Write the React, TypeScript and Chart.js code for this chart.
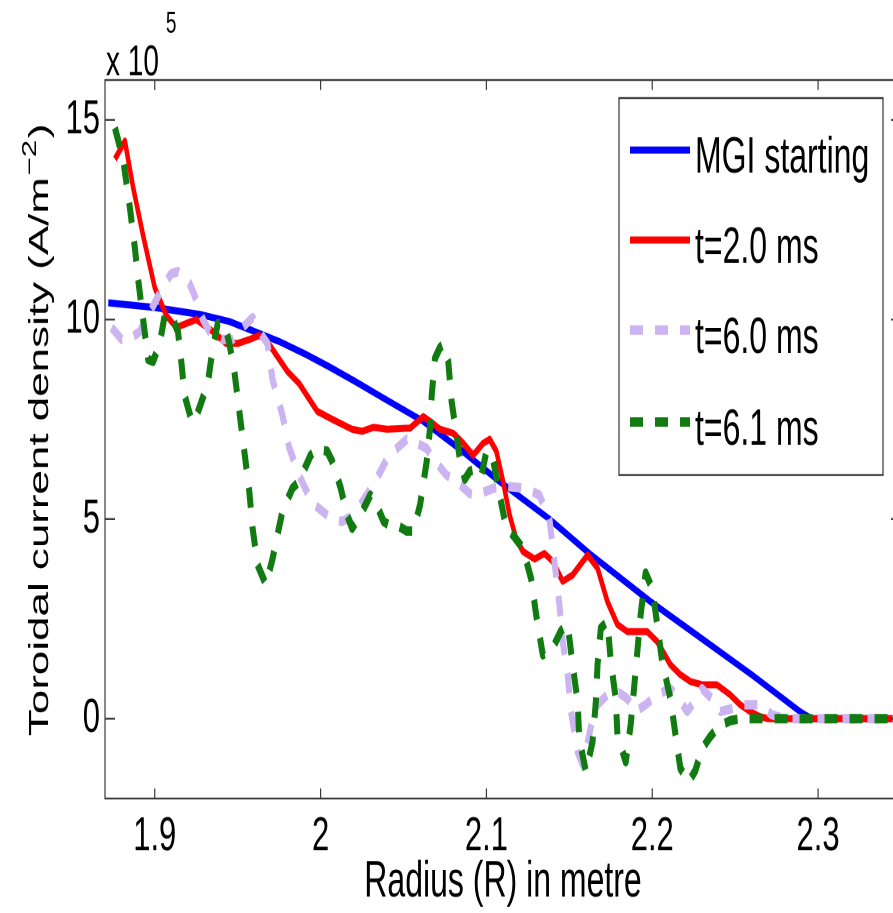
import React, { useEffect, useRef } from 'react';
import { Chart, registerables } from 'chart.js';

Chart.register(...registerables);

const FONT = "'Liberation Sans', Arial, Helvetica, sans-serif";
const CANVAS_W = 901;
const CANVAS_H = 582;
const STRETCH = 913 / CANVAS_H;

const xTickValues = [1.9, 2.0, 2.1, 2.2, 2.3];
const yTickValues = [0, 5, 10, 15];
const xTitle = 'Radius (R) in metre';
const yTitleMain = 'Toroidal current density (A/m';
const yTitleSup = '\u22122';
const yTitleEnd = ')';
const exponentBase = 'x 10';
const exponentPow = '5';

const seriesLabels = ['MGI starting', 't=2.0 ms', 't=6.0 ms', 't=6.1 ms'];
const seriesColors = ['#0000ff', '#ff0000', '#cbb4f0', '#117a11'];

// MGI starting
const mgiR = [1.872, 1.9, 1.927, 1.945, 1.959, 1.975, 1.99, 2.005, 2.02, 2.04, 2.062, 2.085, 2.108, 2.138, 2.162, 2.199, 2.23, 2.26, 2.289, 2.296, 2.35];
const mgiJ = [10.42, 10.3, 10.13, 9.95, 9.72, 9.45, 9.15, 8.82, 8.47, 7.98, 7.45, 6.72, 5.94, 5.0, 4.14, 2.93, 2.0, 1.1, 0.18, 0, 0];

// t = 2.0 ms
const t20R = [1.876, 1.882, 1.887, 1.893, 1.9, 1.907, 1.913, 1.919, 1.925, 1.935, 1.943, 1.95, 1.957, 1.963, 1.967, 1.98, 1.987, 1.998, 2.007, 2.019, 2.025, 2.032, 2.04, 2.054, 2.062, 2.066, 2.072, 2.08, 2.086, 2.092, 2.098, 2.102, 2.106, 2.11, 2.114, 2.118, 2.122, 2.129, 2.135, 2.14, 2.146, 2.152, 2.161, 2.167, 2.173, 2.179, 2.185, 2.197, 2.203, 2.211, 2.217, 2.223, 2.23, 2.239, 2.247, 2.253, 2.259, 2.265, 2.27, 2.35];
const t20J = [14.02, 14.47, 13.3, 12.1, 10.8, 10.1, 9.8, 9.9, 10.0, 9.7, 9.4, 9.4, 9.5, 9.6, 9.5, 8.7, 8.4, 7.7, 7.5, 7.25, 7.2, 7.3, 7.25, 7.28, 7.57, 7.45, 7.25, 7.15, 6.9, 6.6, 6.9, 7.0, 6.7, 5.95, 5.1, 4.5, 4.19, 4.0, 4.14, 3.94, 3.44, 3.6, 4.1, 3.77, 2.93, 2.36, 2.18, 2.18, 1.93, 1.35, 1.1, 0.93, 0.85, 0.85, 0.6, 0.35, 0.18, 0.05, 0, 0];

// t = 6.0 ms
const t60R = [1.874, 1.88, 1.886, 1.891, 1.896, 1.901, 1.906, 1.91, 1.914, 1.918, 1.921, 1.925, 1.929, 1.933, 1.941, 1.947, 1.953, 1.959, 1.963, 1.968, 1.971, 1.977, 1.981, 1.987, 1.995, 2.007, 2.013, 2.018, 2.024, 2.032, 2.04, 2.044, 2.052, 2.056, 2.064, 2.068, 2.076, 2.082, 2.09, 2.094, 2.104, 2.112, 2.124, 2.132, 2.138, 2.141, 2.144, 2.146, 2.149, 2.151, 2.155, 2.158, 2.161, 2.164, 2.167, 2.173, 2.18, 2.185, 2.19, 2.196, 2.203, 2.211, 2.216, 2.221, 2.226, 2.23, 2.236, 2.241, 2.248, 2.255, 2.265, 2.272, 2.28, 2.35];
const t60J = [9.8, 9.5, 9.55, 9.7, 10.1, 10.5, 10.9, 11.15, 11.2, 11.05, 10.9, 10.5, 10.0, 9.7, 9.5, 9.5, 9.8, 10.05, 9.7, 9.4, 8.5, 7.6, 6.8, 6.1, 5.4, 5.0, 4.94, 5.05, 5.36, 5.87, 6.5, 6.7, 7.0, 6.95, 6.77, 6.5, 6.1, 5.94, 5.64, 5.6, 5.77, 5.82, 5.77, 5.6, 5.0, 3.94, 2.86, 1.93, 1.1, 0.18, -0.83, -1.15, -0.6, 0.0, 0.35, 0.6, 0.65, 0.5, 0.18, 0.35, 0.6, 0.75, 0.5, 0.18, 0.45, 0.75, 0.5, 0.18, 0.25, 0.35, 0.35, 0.1, 0, 0];

// t = 6.1 ms
const t61R = [1.876, 1.881, 1.885, 1.888, 1.89, 1.893, 1.896, 1.899, 1.903, 1.906, 1.91, 1.914, 1.916, 1.918, 1.922, 1.924, 1.927, 1.932, 1.935, 1.938, 1.942, 1.945, 1.948, 1.951, 1.954, 1.957, 1.959, 1.962, 1.967, 1.971, 1.977, 1.983, 1.987, 1.994, 1.998, 2.004, 2.007, 2.012, 2.016, 2.019, 2.024, 2.03, 2.033, 2.038, 2.041, 2.046, 2.052, 2.056, 2.06, 2.064, 2.066, 2.067, 2.069, 2.072, 2.074, 2.077, 2.079, 2.082, 2.084, 2.087, 2.09, 2.094, 2.097, 2.1, 2.104, 2.108, 2.112, 2.116, 2.122, 2.127, 2.13, 2.134, 2.138, 2.141, 2.145, 2.149, 2.152, 2.155, 2.156, 2.16, 2.164, 2.166, 2.167, 2.169, 2.173, 2.175, 2.178, 2.179, 2.184, 2.187, 2.189, 2.191, 2.193, 2.196, 2.2, 2.203, 2.206, 2.211, 2.214, 2.217, 2.222, 2.226, 2.23, 2.235, 2.24, 2.247, 2.253, 2.35];
const t61J = [14.8, 14.0, 12.8, 11.8, 11.0, 10.0, 9.0, 8.95, 9.4, 10.1, 10.1, 9.7, 8.95, 8.1, 7.5, 7.45, 7.8, 8.4, 9.3, 9.9, 9.9, 9.4, 8.7, 7.7, 6.7, 5.7, 4.77, 3.86, 3.36, 4.0, 5.2, 5.77, 5.94, 6.6, 6.75, 6.7, 6.45, 5.8, 5.1, 4.77, 5.1, 5.6, 5.44, 4.94, 4.86, 4.85, 4.7, 4.7, 5.36, 6.45, 7.28, 8.1, 9.03, 9.3, 9.37, 8.95, 7.95, 7.1, 6.5, 6.0, 6.2, 6.27, 6.1, 6.7, 6.5, 5.6, 4.77, 4.6, 4.27, 3.5, 2.6, 1.6, 1.7, 1.86, 2.2, 2.36, 1.35, 0.43, -0.5, -1.33, -0.58, 0.43, 1.35, 2.27, 2.43, 1.43, 0.5, -0.4, -1.08, -0.15, 0.75, 1.68, 2.6, 3.65, 3.26, 2.36, 1.43, 0.5, -0.4, -1.25, -1.58, -1.3, -0.75, -0.45, -0.2, -0.05, 0, 0];

const toPoints = (r: number[], j: number[]) => r.map((x, i) => ({ x, y: j[i] }));

const seriesData = [
  toPoints(mgiR, mgiJ),
  toPoints(t20R, t20J),
  toPoints(t60R, t60J),
  toPoints(t61R, t61J),
];
const seriesDash: number[][] = [[], [], [13, 12], [13, 12]];
const seriesWidth = [4.5, 4.5, 6, 6];
const seriesOrder = [3, 2, 1, 0];

const decorPlugin = {
  id: 'matlabDecor',
  afterDatasetsDraw(chart: any) {
    const { ctx, chartArea: a, scales } = chart;
    const xs = scales.x;
    const ys = scales.y;
    ctx.save();
    ctx.strokeStyle = '#3a3a3a';
    ctx.lineWidth = 1.2;
    ctx.setLineDash([]);
    ctx.strokeRect(a.left, a.top, a.right - a.left, a.bottom - a.top);
    ctx.beginPath();
    for (const v of xTickValues) {
      const px = xs.getPixelForValue(v);
      ctx.moveTo(px, a.bottom);
      ctx.lineTo(px, a.bottom - 6.4);
      ctx.moveTo(px, a.top);
      ctx.lineTo(px, a.top + 6.4);
    }
    for (const v of yTickValues) {
      const py = ys.getPixelForValue(v);
      ctx.moveTo(a.left, py);
      ctx.lineTo(a.left + 10, py);
      ctx.moveTo(a.right, py);
      ctx.lineTo(a.right - 10, py);
    }
    ctx.stroke();
    ctx.restore();
  },
  afterDraw(chart: any) {
    const { ctx, chartArea: a } = chart;
    ctx.save();
    ctx.fillStyle = '#000';
    ctx.textAlign = 'left';
    ctx.textBaseline = 'alphabetic';

    // exponent label
    ctx.font = `28px ${FONT}`;
    ctx.fillText(exponentBase, a.left + 1, 47.8);
    const wb = ctx.measureText(exponentBase).width;
    ctx.font = `19px ${FONT}`;
    ctx.fillText(exponentPow, a.left + wb + 8, 21);

    // y title with superscript
    ctx.font = `28px ${FONT}`;
    const w1 = ctx.measureText(yTitleMain).width;
    ctx.font = `20px ${FONT}`;
    const w2 = ctx.measureText(yTitleSup).width;
    ctx.font = `28px ${FONT}`;
    const w3 = ctx.measureText(yTitleEnd).width;
    const total = w1 + w2 + w3;
    const cy = (a.top + a.bottom) / 2 - 5;
    ctx.save();
    ctx.translate(48, cy + total / 2);
    ctx.rotate(-Math.PI / 2);
    ctx.font = `28px ${FONT}`;
    ctx.fillText(yTitleMain, 0, 0);
    ctx.font = `20px ${FONT}`;
    ctx.fillText(yTitleSup, w1 + 1, -12);
    ctx.font = `28px ${FONT}`;
    ctx.fillText(yTitleEnd, w1 + w2 + 2, 0);
    ctx.restore();

    // legend box
    const bx0 = 619, bx1 = 883, by0 = 62.5, by1 = 302.8;
    ctx.fillStyle = '#fff';
    ctx.fillRect(bx0, by0, bx1 - bx0, by1 - by0);
    ctx.strokeStyle = '#333';
    ctx.lineWidth = 1.2;
    ctx.strokeRect(bx0, by0, bx1 - bx0, by1 - by0);
    const rowY = [95.6, 153, 210.4, 269];
    chart.data.datasets.forEach((ds: any, i: number) => {
      const y = rowY[i];
      ctx.save();
      ctx.strokeStyle = ds.borderColor;
      ctx.lineWidth = ds.borderWidth;
      ctx.lineCap = 'butt';
      ctx.setLineDash(ds.borderDash || []);
      ctx.beginPath();
      ctx.moveTo(630, y);
      ctx.lineTo(690, y);
      ctx.stroke();
      ctx.restore();
      ctx.fillStyle = '#000';
      ctx.font = `32px ${FONT}`;
      ctx.fillText(ds.label, 695, y + 14.5);
    });
    ctx.restore();
  },
};

export default function App() {
  const canvasRef = useRef<HTMLCanvasElement | null>(null);

  useEffect(() => {
    const canvas = canvasRef.current;
    if (!canvas) return;
    const chart = new Chart(canvas, {
      type: 'line',
      data: {
        datasets: seriesLabels.map((label, i) => ({
          label,
          data: seriesData[i],
          borderColor: seriesColors[i],
          backgroundColor: seriesColors[i],
          borderWidth: seriesWidth[i],
          borderDash: seriesDash[i],
          borderCapStyle: 'butt',
          borderJoinStyle: 'round',
          pointRadius: 0,
          pointHoverRadius: 0,
          tension: 0,
          fill: false,
          order: seriesOrder[i],
        })),
      },
      options: {
        animation: false,
        responsive: false,
        devicePixelRatio: 2,
        events: [],
        layout: { padding: { top: 51, left: 0, right: 0, bottom: 0 } },
        plugins: {
          legend: { display: false },
          tooltip: { enabled: false },
        },
        scales: {
          x: {
            type: 'linear',
            min: 1.87,
            max: 2.35,
            grid: { display: false, drawTicks: false },
            border: { display: false },
            afterBuildTicks: (axis: any) => {
              axis.ticks = xTickValues.map((v) => ({ value: v }));
            },
            afterFit: (axis: any) => {
              axis.height = 73;
            },
            ticks: {
              autoSkip: false,
              maxRotation: 0,
              padding: 6,
              color: '#000',
              font: { family: FONT, size: 31 },
              callback: (v: any) => String(Number(Number(v).toFixed(1))),
            },
            title: {
              display: true,
              text: xTitle,
              color: '#000',
              font: { family: FONT, size: 32 },
              padding: { top: 0, bottom: 0 },
            },
          },
          y: {
            type: 'linear',
            min: -2,
            max: 16,
            grid: { display: false, drawTicks: false },
            border: { display: false },
            afterBuildTicks: (axis: any) => {
              axis.ticks = yTickValues.map((v) => ({ value: v }));
            },
            afterFit: (axis: any) => {
              axis.width = 105;
            },
            ticks: {
              padding: 5,
              color: '#000',
              font: { family: FONT, size: 31 },
              callback: (v: any) => String(v),
            },
          },
        },
      },
      plugins: [decorPlugin],
    } as any);
    return () => chart.destroy();
  }, []);

  return (
    <div
      style={{
        position: 'absolute',
        left: 0,
        top: 0,
        width: 893,
        height: 913,
        overflow: 'hidden',
        background: '#fff',
      }}
    >
      <div
        style={{
          width: CANVAS_W,
          height: CANVAS_H,
          transform: `scaleY(${STRETCH})`,
          transformOrigin: '0 0',
        }}
      >
        <canvas
          ref={canvasRef}
          width={CANVAS_W}
          height={CANVAS_H}
          style={{ width: CANVAS_W, height: CANVAS_H, display: 'block' }}
        />
      </div>
    </div>
  );
}
